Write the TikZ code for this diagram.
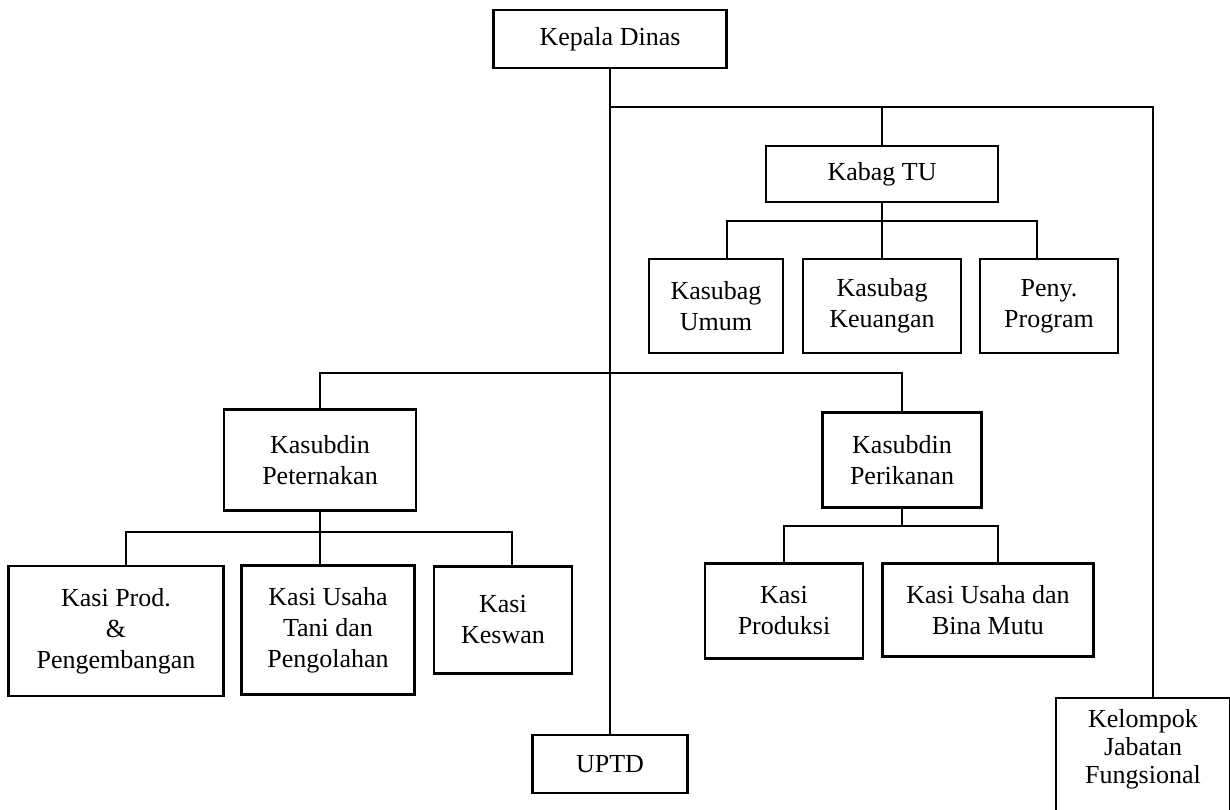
\documentclass[tikz,border=0pt]{standalone}
\usepackage{fontspec}
\setmainfont{Liberation Serif}
\usetikzlibrary{calc,positioning}

\begin{document}
\begin{tikzpicture}[x=1pt,y=-1pt,
 box/.style={draw,line width=2.4pt,align=center,inner sep=2pt,
  font=\fontsize{26}{31}\selectfont},
 link/.style={line width=2.2pt}] %1pt = 1px
\useasboundingbox (0,0) rectangle (1230,810);
\node [box,minimum width=233pt,minimum height=58pt] (kepala) at (610,39) {Kepala Dinas};
\node [box,minimum width=232pt,minimum height=56pt] (kabag) at (882,174) {Kabag TU};
\node [box,minimum width=134pt,minimum height=94pt] (umum) at (716,306) {Kasubag\\Umum};
\node [box,minimum width=158pt,minimum height=94pt] (keu) at (882,306) {Kasubag\\Keuangan};
\node [box,minimum width=138pt,minimum height=94pt] (prog) at (1049,306) {Peny.\\Program};
\node [box,minimum width=192pt,minimum height=101pt] (peter) at (320,460) {Kasubdin\\Peternakan};
\node [box,minimum width=159pt,minimum height=95pt] (perik) at (902,460) {Kasubdin\\Perikanan};
\node [box,minimum width=215pt,minimum height=130pt] (prod) at (116,631) {Kasi Prod.\\\&\\Pengembangan};
\node [box,minimum width=173pt,minimum height=129pt] (tani) at (328,630) {Kasi Usaha\\Tani dan\\Pengolahan};
\node [box,minimum width=138pt,minimum height=107pt] (keswan) at (503,620) {Kasi\\Keswan};
\node [box,minimum width=158pt,minimum height=95pt] (produksi) at (784,611) {Kasi\\Produksi};
\node [box,minimum width=211pt,minimum height=93pt] (mutu) at (988,610) {Kasi Usaha dan\\Bina Mutu};
\node [box,minimum width=155pt,minimum height=58pt] (uptd) at (610,764) {UPTD};
\node [box,minimum width=174pt,inner ysep=11pt,anchor=north,
 font=\fontsize{26}{28}\selectfont] (kelompok) at (1143,697)
 {Kelompok\\Jabatan\\Fungsional\rule[-60pt]{0pt}{60pt}};
\coordinate (j1) at (610,107);
\coordinate (rt) at (1153,107);
\coordinate (tubus) at (882,221);
\coordinate (sb) at (610,373);
\coordinate (pbus) at (320,532);
\coordinate (fbus) at (902,526);
\draw [link] (kepala) -- (uptd);
\draw [link] (j1) -- (rt) -- (rt |- kelompok.north);
\draw [link] (kabag) -- (kabag |- j1);
\draw [link] (kabag) -- (tubus);
\draw [link] ([xshift=11pt]umum.north) |- (tubus) -| ([xshift=-12pt]prog.north);
\draw [link] (keu) -- (tubus);
\draw [link] (peter.north) |- (sb) -| (perik.north);
\draw [link] (peter) -- (peter |- tani.north);
\draw [link] ([xshift=10pt]prod.north) |- (pbus) -| ([xshift=9pt]keswan.north);
\draw [link] (perik) -- (fbus);
\draw [link] (produksi.north) |- (fbus) -| ([xshift=10pt]mutu.north);
\end{tikzpicture}
\end{document}
